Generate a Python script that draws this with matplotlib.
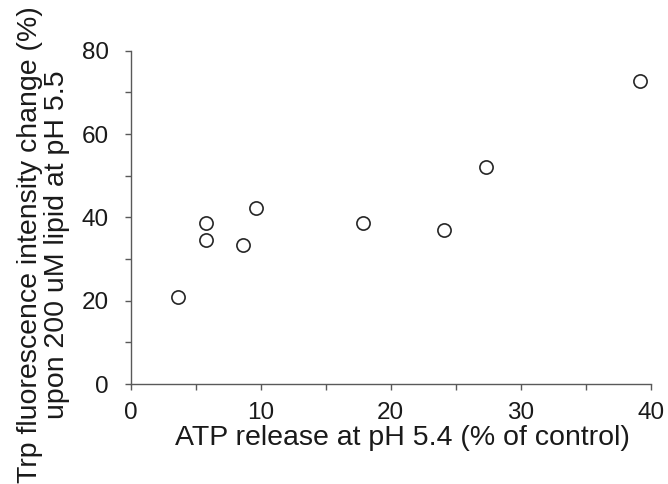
import matplotlib.pyplot as plt
from matplotlib.ticker import MultipleLocator

plt.rcParams['font.family'] = ['Liberation Sans', 'DejaVu Sans']

atp_release = [3.6, 5.8, 5.8, 8.6, 9.6, 17.9, 24.1, 27.3, 39.2]
trp_change  = [20.8, 38.7, 34.5, 33.3, 42.2, 38.7, 37.0, 52.0, 72.8]

fig = plt.figure(figsize=(6.68, 4.84), dpi=100)
ax = fig.add_axes([0.1957, 0.2066, 0.9741 - 0.1957, 0.8953 - 0.2066])

ax.plot(atp_release, trp_change, 'o', ms=9.5, mfc='white', mec='#262626',
        mew=1.2, clip_on=False)

ax.set_xlim(0, 40)
ax.set_ylim(0, 80)
ax.xaxis.set_major_locator(MultipleLocator(10))
ax.xaxis.set_minor_locator(MultipleLocator(5))
ax.yaxis.set_major_locator(MultipleLocator(20))
ax.yaxis.set_minor_locator(MultipleLocator(10))

for s in ['top', 'right']:
    ax.spines[s].set_visible(False)
for s in ['left', 'bottom']:
    ax.spines[s].set_color('#595959')
    ax.spines[s].set_linewidth(1.0)

ax.tick_params(which='both', direction='out', length=4, width=1.0,
               color='#595959', labelsize=17.5, labelcolor='#1a1a1a')
ax.tick_params(axis='y', which='major', pad=12)
ax.tick_params(axis='x', which='major', pad=9)

ax.set_xlabel('ATP release at pH 5.4 (% of control)', fontsize=20.5,
              color='#1a1a1a', labelpad=1)
ax.xaxis.label.set_x(0.523)
ax.set_ylabel('Trp fluorescence intensity change (%)\nupon 200 uM lipid at pH 5.5',
              fontsize=20.5, color='#1a1a1a', labelpad=8, linespacing=1.05)
ax.yaxis.label.set_y(0.418)

fig.savefig('out.png', dpi=100)
